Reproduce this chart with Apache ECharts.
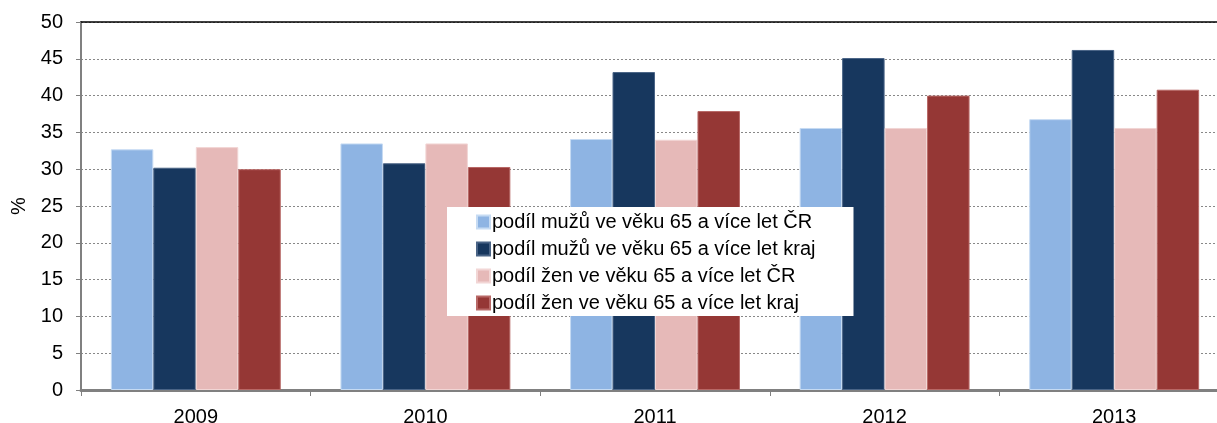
<!DOCTYPE html>
<html><head><meta charset="utf-8">
<script src="https://cdn.jsdelivr.net/npm/echarts@6/dist/echarts.min.js"></script>
<style>html,body{margin:0;padding:0;background:#fff}#c{width:1217px;height:423px}</style>
</head><body><div id="c"></div>
<script>
const categories = ['2009','2010','2011','2012','2013'];
const seriesNames = [
  'podíl mužů ve věku 65 a více let ČR',
  'podíl mužů ve věku 65 a více let kraj',
  'podíl žen ve věku 65 a více let ČR',
  'podíl žen ve věku 65 a více let kraj'
];
const menCR = [32.7, 33.5, 34.1, 35.6, 36.8];
const menKraj = [30.2, 30.8, 43.2, 45.1, 46.2];
const womenCR = [33.0, 33.5, 34.0, 35.6, 35.6];
const womenKraj = [30.0, 30.3, 37.9, 40.0, 40.8];
const colors = ['#8EB4E3','#17375E','#E6B9B8','#953735'];
const borders = ['#c6dbf3','#4a6486','#f2d6d5','#b86866'];
const values = [menCR, menKraj, womenCR, womenKraj];

const chart = echarts.init(document.getElementById('c'));
const font = 'Liberation Sans, Arial, sans-serif';
chart.setOption({
  animation: false,
  textStyle: {fontFamily: font},
  grid: {left: 81, right: -12, top: 22, bottom: 33, containLabel: false, outerBoundsMode: 'none'},
  legend: {
    orient: 'vertical', left: 447, top: 207,
    backgroundColor: '#fff', padding: [5, 38, 3, 29],
    itemWidth: 13, itemHeight: 13, itemGap: 7,
    icon: 'rect',
    textStyle: {fontSize: 20, color: '#000', fontFamily: font, padding: [0,0,0,-3]},
    data: seriesNames
  },
  xAxis: [{
    type: 'category', data: categories,
    axisLine: {lineStyle: {color: '#808080', width: 3}},
    axisTick: {show: true, length: 6, lineStyle: {color: '#808080', width: 1}},
    axisLabel: {fontSize: 20, color: '#000', margin: 17, fontFamily: font}
  }, {
    type: 'category', data: categories, position: 'top',
    axisLine: {lineStyle: {color: '#000', width: 1.5}},
    axisTick: {show: false}, axisLabel: {show: false}
  }],
  yAxis: {
    type: 'value', min: 0, max: 50, interval: 5,
    name: '%', nameLocation: 'middle', nameGap: 52, nameRotate: 90,
    nameTextStyle: {fontSize: 20, color: '#000', fontFamily: font},
    axisLine: {show: true, lineStyle: {color: '#808080', width: 2}},
    axisTick: {show: true, length: 5, lineStyle: {color: '#808080'}},
    axisLabel: {fontSize: 20, color: '#000', margin: 18, fontFamily: font},
    splitLine: {show: true, lineStyle: {color: '#888', type: [2, 2], width: 1}}
  },
  series: values.map((v, i) => ({
    name: seriesNames[i], type: 'bar', data: v,
    barGap: '0%', barCategoryGap: '26%',
    itemStyle: {color: colors[i], borderColor: borders[i], borderWidth: 1}
  }))
});
</script></body></html>
